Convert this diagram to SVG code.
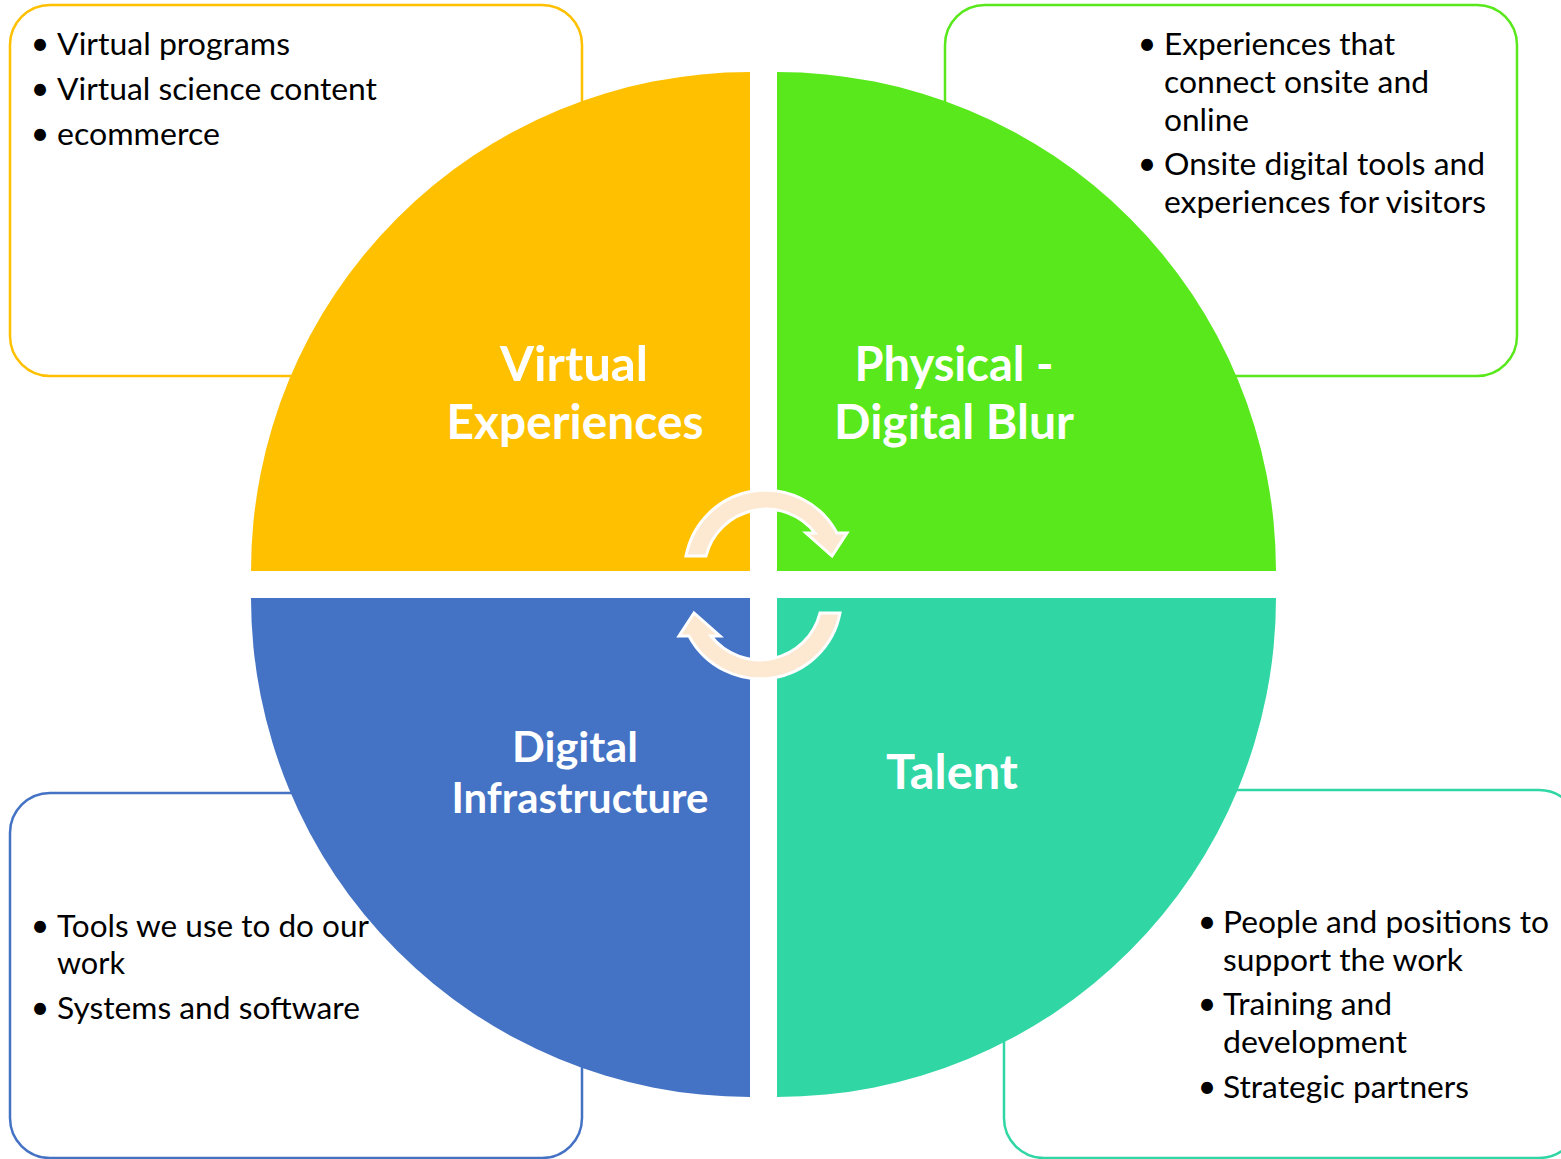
<svg xmlns="http://www.w3.org/2000/svg" width="1561" height="1159" viewBox="0 0 1561 1159">
<style>
.box{fill:#FFFFFF;stroke-width:2.5}
.bt{font-family:Lato,"Open Sans","Liberation Sans",sans-serif;font-size:30px;fill:#000000}
.bul{font-family:Lato,"Open Sans","Liberation Sans",sans-serif;font-size:32px;fill:#000000;text-anchor:middle}
.lbl{font-family:Lato,"Open Sans","Liberation Sans",sans-serif;font-weight:bold;fill:#FFFFFF;text-anchor:middle}
.arr{fill:#FDE8D2;stroke:#FFFFFF;stroke-width:3;stroke-linejoin:miter}
</style>
<rect width="1561" height="1159" fill="#FFFFFF"/>

<g id="box-virtual">
<rect class="box" x="10" y="5" width="572" height="371" rx="40" ry="40" stroke="#FFC000"/>
<text class="bul" x="40" y="55">•</text><text class="bt" x="57" y="55" textLength="233" lengthAdjust="spacingAndGlyphs">Virtual programs</text>
<text class="bul" x="40" y="100">•</text><text class="bt" x="57" y="100" textLength="320" lengthAdjust="spacingAndGlyphs">Virtual science content</text>
<text class="bul" x="40" y="145">•</text><text class="bt" x="57" y="145" textLength="163" lengthAdjust="spacingAndGlyphs">ecommerce</text>
</g>

<g id="box-physical">
<rect class="box" x="945" y="5" width="572" height="371" rx="40" ry="40" stroke="#58E81C"/>
<text class="bul" x="1147" y="55">•</text><text class="bt" x="1164" y="55" textLength="231" lengthAdjust="spacingAndGlyphs">Experiences that</text>
<text class="bt" x="1164" y="93" textLength="265" lengthAdjust="spacingAndGlyphs">connect onsite and</text>
<text class="bt" x="1164" y="131" textLength="85" lengthAdjust="spacingAndGlyphs">online</text>
<text class="bul" x="1147" y="175">•</text><text class="bt" x="1164" y="175" textLength="321" lengthAdjust="spacingAndGlyphs">Onsite digital tools and</text>
<text class="bt" x="1164" y="213" textLength="322" lengthAdjust="spacingAndGlyphs">experiences for visitors</text>
</g>

<g id="box-infrastructure">
<rect class="box" x="10" y="793" width="572" height="365" rx="40" ry="40" stroke="#4472C4"/>
<text class="bul" x="40" y="937">•</text><text class="bt" x="57" y="937" textLength="312" lengthAdjust="spacingAndGlyphs">Tools we use to do our</text>
<text class="bt" x="57" y="974" textLength="68" lengthAdjust="spacingAndGlyphs">work</text>
<text class="bul" x="40" y="1019">•</text><text class="bt" x="57" y="1019" textLength="303" lengthAdjust="spacingAndGlyphs">Systems and software</text>
</g>

<g id="box-talent">
<rect class="box" x="1004" y="790" width="575" height="368" rx="40" ry="40" stroke="#30D6A4"/>
<text class="bul" x="1207" y="933">•</text><text class="bt" x="1223" y="933" textLength="326" lengthAdjust="spacingAndGlyphs">People and positions to</text>
<text class="bt" x="1223" y="971" textLength="240" lengthAdjust="spacingAndGlyphs">support the work</text>
<text class="bul" x="1207" y="1015">•</text><text class="bt" x="1223" y="1015" textLength="169" lengthAdjust="spacingAndGlyphs">Training and</text>
<text class="bt" x="1223" y="1053" textLength="184" lengthAdjust="spacingAndGlyphs">development</text>
<text class="bul" x="1207" y="1098">•</text><text class="bt" x="1223" y="1098" textLength="246" lengthAdjust="spacingAndGlyphs">Strategic partners</text>
</g>

<g id="q-virtual">
<path d="M750 571 L251 571 A499 499 0 0 1 750 72 Z" fill="#FFC000"/>
<text class="lbl" x="574" y="381" font-size="47" textLength="148" lengthAdjust="spacingAndGlyphs">Virtual</text>
<text class="lbl" x="575" y="439" font-size="47" textLength="257" lengthAdjust="spacingAndGlyphs">Experiences</text>
</g>
<g id="q-physical">
<path d="M777 571 L777 72 A499 499 0 0 1 1276 571 Z" fill="#58E81C"/>
<text class="lbl" x="954" y="381" font-size="47" textLength="199" lengthAdjust="spacingAndGlyphs">Physical -</text>
<text class="lbl" x="954" y="439" font-size="47" textLength="240" lengthAdjust="spacingAndGlyphs">Digital Blur</text>
</g>
<g id="q-infrastructure">
<path d="M750 598 L750 1097 A499 499 0 0 1 251 598 Z" fill="#4472C4"/>
<text class="lbl" x="575" y="762" font-size="42" textLength="126" lengthAdjust="spacingAndGlyphs">Digital</text>
<text class="lbl" x="580" y="813" font-size="42" textLength="257" lengthAdjust="spacingAndGlyphs">Infrastructure</text>
</g>
<g id="q-talent">
<path d="M777 598 L1276 598 A499 499 0 0 1 777 1097 Z" fill="#30D6A4"/>
<text class="lbl" x="952" y="789" font-size="47" textLength="132" lengthAdjust="spacingAndGlyphs">Talent</text>
</g>

<g id="connectors">
<path id="arrow-top" class="arr" d="M686 556 A81 81 0 0 1 837 533 L847 533 L832 556 L806 533 L815 533 A62 62 0 0 0 706 556 Z"/>
<path id="arrow-bottom" class="arr" transform="rotate(180 763 584.5)" d="M686 556 A81 81 0 0 1 837 533 L847 533 L832 556 L806 533 L815 533 A62 62 0 0 0 706 556 Z"/>
</g>
</svg>
